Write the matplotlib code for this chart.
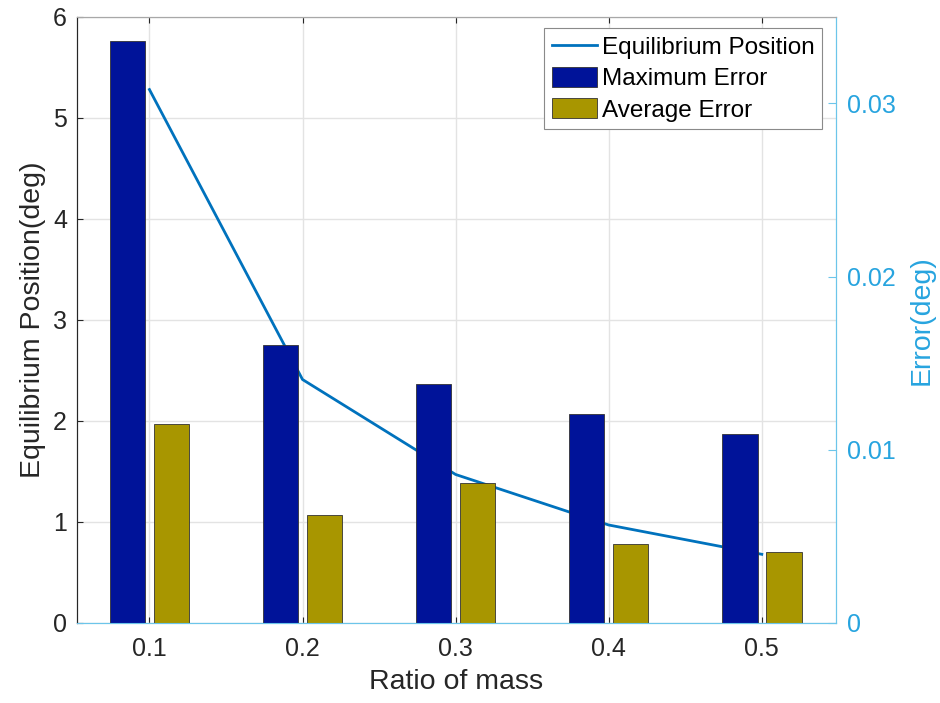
import matplotlib
matplotlib.use("Agg")
import matplotlib.pyplot as plt
import numpy as np

plt.rcParams['font.family'] = ['Liberation Sans', 'DejaVu Sans']

# Data
mass_ratio = [0.1, 0.2, 0.3, 0.4, 0.5]
equilibrium_position = [5.28, 2.41, 1.47, 0.97, 0.68]          # deg, left axis
maximum_error = [0.0336, 0.01607, 0.0138, 0.01207, 0.01089]     # deg, right axis
average_error = [0.01147, 0.00624, 0.00807, 0.00456, 0.00408]   # deg, right axis

left_ticks = [0, 1, 2, 3, 4, 5, 6]
right_ticks = [0, 0.01, 0.02, 0.03]
right_tick_labels = ['0', '0.01', '0.02', '0.03']

# Styling
line_color = '#0072BD'
max_color = '#001399'
avg_color = '#A89600'
right_color = '#27a4df'
right_spine = '#6cc5ea'
dark = '#262626'
grid_color = '#e3e3e3'

fig = plt.figure(figsize=(9.4, 7.03), dpi=100)
ax1 = fig.add_axes([0.0816, 0.1138, 0.8078, 0.8623])
ax2 = ax1.twinx()

x = np.array(mass_ratio)
bar_w = 0.0232
offset = 0.0144

eq_line, = ax1.plot(x, equilibrium_position, color=line_color, lw=2.0,
                    label='Equilibrium Position', zorder=2)
b1 = ax2.bar(x - offset, maximum_error, width=bar_w, color=max_color,
             edgecolor='#333333', linewidth=0.6, label='Maximum Error')
b2 = ax2.bar(x + offset, average_error, width=bar_w, color=avg_color,
             edgecolor='#333333', linewidth=0.6, label='Average Error')

ax1.set_xlim(0.0525, 0.5485)
ax1.set_ylim(0, 6)
ax2.set_ylim(0, 0.035)

ax1.set_xticks(mass_ratio)
ax1.set_xticklabels(['0.1', '0.2', '0.3', '0.4', '0.5'])
ax1.set_yticks(left_ticks)
ax2.set_yticks(right_ticks)
ax2.set_yticklabels(right_tick_labels)

ax1.grid(True, color=grid_color, lw=1.0)
ax1.set_axisbelow(True)

ax1.tick_params(axis='x', direction='in', length=4.5, width=0.8, colors=dark,
                labelsize=18, pad=10, top=True, labeltop=False)
ax1.tick_params(axis='y', direction='in', length=4.5, width=0.8, colors=dark,
                labelsize=18, pad=7, right=False)
ax2.tick_params(axis='y', direction='in', length=5.5, width=0.8,
                colors=right_spine, labelcolor=right_color, labelsize=18, pad=8)

ax1.set_xlabel('Ratio of mass', fontsize=20.5, color=dark, labelpad=6)
ax1.set_ylabel('Equilibrium Position(deg)', fontsize=20.5, color=dark, labelpad=5)
ax2.set_ylabel('Error(deg)', fontsize=20.5, color=right_color, labelpad=9)

for ax in (ax1, ax2):
    ax.spines['left'].set_color(dark)
    ax.spines['top'].set_color('#a8a8a8')
    ax.spines['bottom'].set_color(right_spine)
    ax.spines['right'].set_color(right_spine)
    for s in ax.spines.values():
        s.set_linewidth(0.8)

leg = ax2.legend(handles=[eq_line, b1, b2], loc='upper right',
                 bbox_to_anchor=(0.981, 0.981), fontsize=17.5,
                 fancybox=False, frameon=True, edgecolor='#8a8a8a',
                 framealpha=1, borderpad=0.3, labelspacing=0.32,
                 handlelength=1.85, handleheight=0.9, handletextpad=0.2,
                 borderaxespad=0)
leg.get_frame().set_linewidth(0.8)

fig.savefig('out.png', dpi=100)
